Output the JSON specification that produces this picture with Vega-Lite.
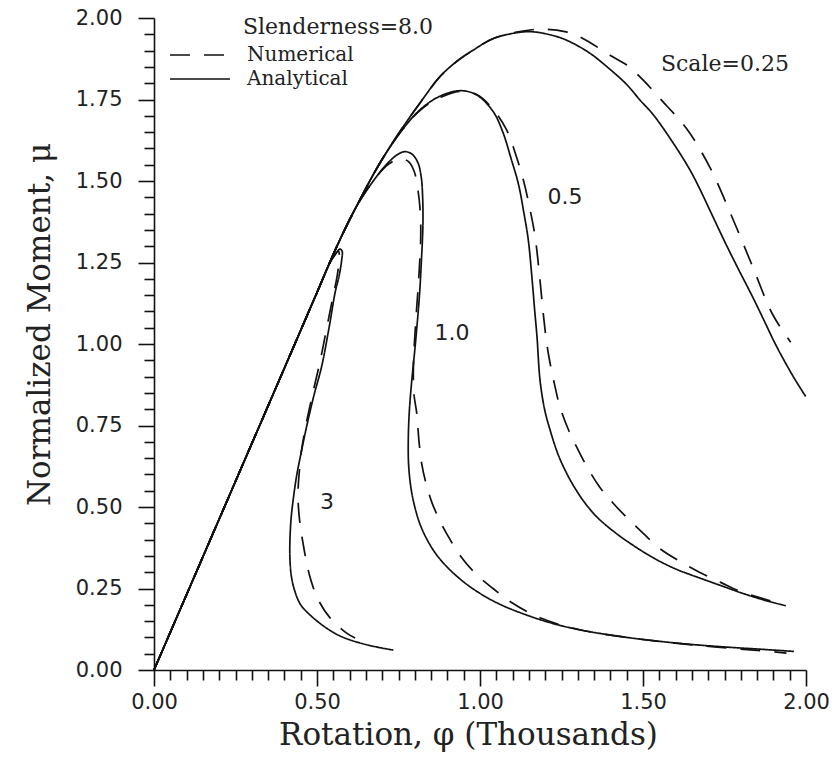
{
  "$schema": "https://vega.github.io/schema/vega-lite/v6.json",
  "width": 652,
  "height": 652,
  "autosize": {"type": "none"},
  "padding": {"left": 154, "top": 18, "right": 26, "bottom": 90},
  "background": "white",
  "config": {
    "view": {"stroke": null},
    "axis": {
      "grid": false,
      "domainColor": "#111",
      "domainWidth": 1.6,
      "tickColor": "#111",
      "tickWidth": 1.6,
      "labelFont": "DejaVu Sans",
      "labelFontSize": 21,
      "labelColor": "#222",
      "labelFlush": false,
      "labelOverlap": false,
      "labelBound": false,
      "titleFont": "DejaVu Serif",
      "titleFontSize": 31,
      "titleFontWeight": "normal",
      "titleColor": "#222"
    }
  },
  "datasets": {
    "curves": [
      {"c": "3", "t": "Analytical",
       "x": [0, 0.2, 0.4, 0.5, 0.54, 0.558, 0.57, 0.577, 0.576, 0.568, 0.556, 0.537, 0.514, 0.49, 0.468, 0.45, 0.437, 0.428, 0.421, 0.417, 0.417, 0.421, 0.431, 0.45, 0.484, 0.53, 0.576, 0.65, 0.734],
       "y": [0, 0.463, 0.926, 1.158, 1.25, 1.278, 1.291, 1.285, 1.26, 1.21, 1.16, 1.05, 0.93, 0.84, 0.746, 0.66, 0.593, 0.53, 0.47, 0.40, 0.34, 0.29, 0.245, 0.2, 0.164, 0.128, 0.102, 0.078, 0.061]},
      {"c": "3", "t": "Numerical",
       "x": [0, 0.2, 0.4, 0.5, 0.54, 0.556, 0.566, 0.568, 0.562, 0.55, 0.53, 0.508, 0.485, 0.465, 0.452, 0.445, 0.442, 0.443, 0.449, 0.457, 0.466, 0.48, 0.504, 0.54, 0.591, 0.617],
       "y": [0, 0.463, 0.926, 1.158, 1.25, 1.275, 1.285, 1.26, 1.21, 1.15, 1.05, 0.94, 0.84, 0.746, 0.67, 0.6, 0.55, 0.5, 0.44, 0.39, 0.34, 0.28, 0.215, 0.16, 0.113, 0.098]},
      {"c": "1.0", "t": "Analytical",
       "x": [0, 0.2, 0.4, 0.5, 0.563, 0.62, 0.68, 0.72, 0.75, 0.77, 0.792, 0.81, 0.82, 0.824, 0.825, 0.82, 0.814, 0.801, 0.79, 0.783, 0.78, 0.781, 0.788, 0.8, 0.815, 0.835, 0.862, 0.898, 0.95, 1.0, 1.05, 1.102, 1.205, 1.307, 1.45, 1.55, 1.653, 1.76, 1.856, 1.963],
       "y": [0, 0.463, 0.926, 1.158, 1.304, 1.42, 1.51, 1.558, 1.583, 1.59, 1.582, 1.555, 1.51, 1.452, 1.37, 1.25, 1.145, 0.992, 0.88, 0.79, 0.706, 0.63, 0.56, 0.5, 0.45, 0.405, 0.36, 0.317, 0.27, 0.235, 0.207, 0.184, 0.148, 0.123, 0.1, 0.088, 0.078, 0.07, 0.064, 0.057]},
      {"c": "1.0", "t": "Numerical",
       "x": [0, 0.2, 0.4, 0.5, 0.563, 0.62, 0.68, 0.72, 0.755, 0.78, 0.798, 0.81, 0.817, 0.818, 0.812, 0.803, 0.796, 0.797, 0.806, 0.813, 0.821, 0.835, 0.852, 0.876, 0.903, 0.94, 0.985, 1.04, 1.092, 1.184, 1.3, 1.45, 1.65, 1.85, 1.94],
       "y": [0, 0.463, 0.926, 1.158, 1.304, 1.42, 1.51, 1.552, 1.568, 1.56, 1.53, 1.47, 1.401, 1.32, 1.2, 1.07, 0.94, 0.85, 0.787, 0.7, 0.634, 0.57, 0.515, 0.46, 0.409, 0.35, 0.297, 0.25, 0.21, 0.16, 0.125, 0.1, 0.077, 0.06, 0.052]},
      {"c": "0.5", "t": "Analytical",
       "x": [0, 0.2, 0.4, 0.5, 0.563, 0.62, 0.69, 0.76, 0.82, 0.877, 0.939, 0.99, 1.041, 1.07, 1.095, 1.118, 1.135, 1.148, 1.16, 1.168, 1.175, 1.184, 1.198, 1.215, 1.24, 1.266, 1.29, 1.32, 1.358, 1.41, 1.46, 1.53, 1.6, 1.68, 1.75, 1.806, 1.87, 1.938],
       "y": [0, 0.463, 0.926, 1.158, 1.304, 1.42, 1.55, 1.655, 1.722, 1.76, 1.777, 1.764, 1.712, 1.65, 1.57, 1.49, 1.4, 1.32, 1.196, 1.1, 1.02, 0.89, 0.8, 0.736, 0.66, 0.603, 0.56, 0.515, 0.47, 0.425, 0.389, 0.345, 0.31, 0.28, 0.255, 0.235, 0.215, 0.197]},
      {"c": "0.5", "t": "Numerical",
       "x": [0, 0.2, 0.4, 0.5, 0.563, 0.62, 0.69, 0.76, 0.82, 0.88, 0.94, 0.99, 1.04, 1.082, 1.11, 1.133, 1.152, 1.169, 1.184, 1.194, 1.205, 1.215, 1.23, 1.245, 1.27, 1.296, 1.33, 1.368, 1.41, 1.455, 1.5, 1.551, 1.61, 1.673, 1.74, 1.801, 1.9],
       "y": [0, 0.463, 0.926, 1.158, 1.304, 1.42, 1.55, 1.655, 1.72, 1.757, 1.775, 1.765, 1.72, 1.656, 1.58, 1.503, 1.42, 1.329, 1.196, 1.094, 1.0, 0.941, 0.87, 0.808, 0.74, 0.685, 0.62, 0.56, 0.51, 0.463, 0.42, 0.373, 0.335, 0.3, 0.268, 0.24, 0.21]},
      {"c": "0.25", "t": "Analytical",
       "x": [0, 0.2, 0.4, 0.5, 0.563, 0.62, 0.69, 0.76, 0.82, 0.877, 0.93, 0.98, 1.041, 1.113, 1.15, 1.184, 1.245, 1.29, 1.34, 1.39, 1.449, 1.491, 1.531, 1.593, 1.644, 1.673, 1.71, 1.755, 1.795, 1.836, 1.87, 1.907, 1.958, 1.999],
       "y": [0, 0.463, 0.926, 1.158, 1.304, 1.42, 1.55, 1.66, 1.745, 1.82, 1.868, 1.902, 1.937, 1.955, 1.958, 1.955, 1.94, 1.92, 1.89, 1.85, 1.797, 1.748, 1.704, 1.616, 1.534, 1.478, 1.4, 1.305, 1.225, 1.145, 1.075, 0.998, 0.905, 0.839]},
      {"c": "0.25", "t": "Numerical",
       "x": [0, 0.2, 0.4, 0.5, 0.563, 0.62, 0.69, 0.76, 0.82, 0.877, 0.93, 0.98, 1.041, 1.113, 1.16, 1.205, 1.26, 1.3, 1.337, 1.4, 1.45, 1.5, 1.552, 1.634, 1.704, 1.775, 1.836, 1.897, 1.953],
       "y": [0, 0.463, 0.926, 1.158, 1.304, 1.42, 1.55, 1.66, 1.745, 1.82, 1.868, 1.902, 1.937, 1.957, 1.964, 1.965, 1.958, 1.945, 1.925, 1.885, 1.856, 1.81, 1.753, 1.66, 1.544, 1.385, 1.238, 1.092, 1.005]}
    ],
    "curveLabels": [
      {"x": 0.531, "y": 0.515, "label": "3"},
      {"x": 0.914, "y": 1.034, "label": "1.0"},
      {"x": 1.261, "y": 1.451, "label": "0.5"}
    ],
    "notes": [
      {"x": 0.273, "y": 1.972, "label": "Slenderness=8.0"},
      {"x": 1.555, "y": 1.859, "label": "Scale=0.25"}
    ]
  },
  "encoding": {
    "x": {
      "field": "x",
      "type": "quantitative",
      "title": "Rotation, φ (Thousands)",
      "scale": {"domain": [0, 2], "nice": false, "zero": false},
      "axis": {
        "values": [0, 0.05, 0.1, 0.15, 0.2, 0.25, 0.3, 0.35, 0.4, 0.45, 0.5, 0.55, 0.6, 0.65, 0.7, 0.75, 0.8, 0.85, 0.9, 0.95, 1, 1.05, 1.1, 1.15, 1.2, 1.25, 1.3, 1.35, 1.4, 1.45, 1.5, 1.55, 1.6, 1.65, 1.7, 1.75, 1.8, 1.85, 1.9, 1.95, 2],
        "labelExpr": "abs(datum.value * 2 - round(datum.value * 2)) < 0.001 ? format(datum.value, '.2f') : ''",
        "tickSize": {"condition": {"test": "abs(datum.value * 2 - round(datum.value * 2)) < 0.001", "value": 16}, "value": 10},
        "labelPadding": 5,
        "titlePadding": 8,
        "titleX": 314
      }
    },
    "y": {
      "field": "y",
      "type": "quantitative",
      "title": "Normalized Moment, μ",
      "scale": {"domain": [0, 2], "nice": false, "zero": false},
      "axis": {
        "values": [0, 0.05, 0.1, 0.15, 0.2, 0.25, 0.3, 0.35, 0.4, 0.45, 0.5, 0.55, 0.6, 0.65, 0.7, 0.75, 0.8, 0.85, 0.9, 0.95, 1, 1.05, 1.1, 1.15, 1.2, 1.25, 1.3, 1.35, 1.4, 1.45, 1.5, 1.55, 1.6, 1.65, 1.7, 1.75, 1.8, 1.85, 1.9, 1.95, 2],
        "labelExpr": "abs(datum.value * 4 - round(datum.value * 4)) < 0.001 ? format(datum.value, '.2f') : ''",
        "tickSize": {"condition": {"test": "abs(datum.value * 4 - round(datum.value * 4)) < 0.001", "value": 16}, "value": 10},
        "labelPadding": 16,
        "titlePadding": 19,
        "titleY": 306
      }
    }
  },
  "layer": [
    {
      "data": {"name": "curves"},
      "transform": [{"flatten": ["x", "y"]}],
      "mark": {"type": "line", "color": "#111", "strokeWidth": 1.7, "interpolate": "catmull-rom"},
      "encoding": {
        "detail": [{"field": "c", "type": "nominal"}, {"field": "t", "type": "nominal"}],
        "order": {"value": null},
        "strokeDash": {
          "field": "t",
          "type": "nominal",
          "scale": {"domain": ["Numerical", "Analytical"], "range": [[20, 14], [1, 0]]},
          "legend": {
            "title": null,
            "orient": "none",
            "legendX": 35,
            "legendY": 26,
            "symbolType": "M-3,0H3",
            "symbolSize": 400,
            "symbolStrokeWidth": 1.7,
            "symbolStrokeColor": "#111",
            "labelFont": "DejaVu Serif",
            "labelFontSize": 20,
            "labelColor": "#222",
            "labelOffset": 36,
            "rowPadding": 3,
            "padding": 0
          }
        }
      }
    },
    {
      "data": {"name": "curveLabels"},
      "mark": {"type": "text", "font": "DejaVu Sans", "fontSize": 22, "align": "center", "baseline": "middle", "color": "#222"},
      "encoding": {"text": {"field": "label", "type": "nominal"}}
    },
    {
      "data": {"name": "notes"},
      "mark": {"type": "text", "font": "DejaVu Serif", "fontSize": 22, "align": "left", "baseline": "middle", "color": "#222"},
      "encoding": {"text": {"field": "label", "type": "nominal"}}
    }
  ]
}
